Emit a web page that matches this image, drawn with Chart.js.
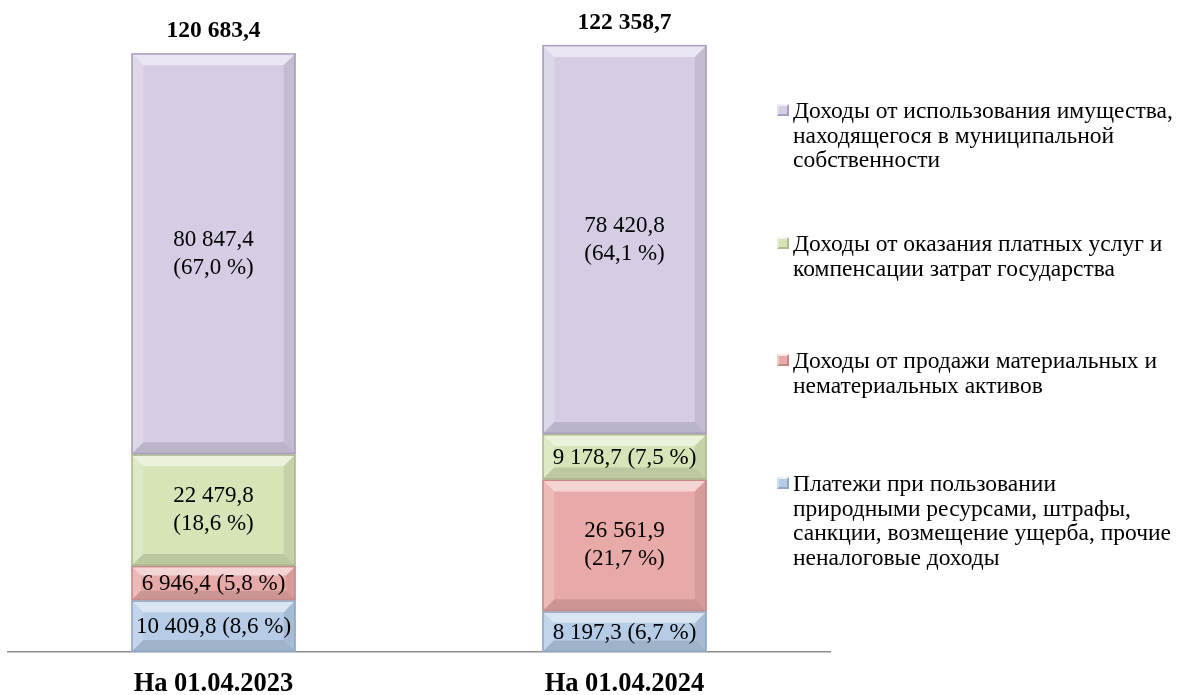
<!DOCTYPE html>
<html>
<head>
<meta charset="utf-8">
<script src="https://cdn.jsdelivr.net/npm/chart.js@4.4.0/dist/chart.umd.min.js"></script>
<style>
  body { margin: 0; background: #fff; }
  #wrap { position: relative; width: 1197px; height: 695px; }
  .leg { position: absolute; left: 777px; font-family: "Liberation Serif", "Times New Roman", serif; font-size: 23.5px; line-height: 24.5px; color: #000; }
  .leg i { position: absolute; left: 0; top: 6px; width: 8px; height: 8px; border: 2px solid; }
  .leg span { display: block; margin-left: 16px; white-space: nowrap; }
</style>
</head>
<body>
<div id="wrap">
  <canvas id="chart" width="1197" height="695"></canvas>
  <div id="legend"></div>
</div>
<script>
// categories and series (bottom of stack first)
const categories = ["На 01.04.2023", "На 01.04.2024"];

const payments = [10409.8, 8197.3];
const sales = [6946.4, 26561.9];
const services = [22479.8, 9178.7];
const property = [80847.4, 78420.8];

const paymentsShare = [8.6, 6.7];
const salesShare = [5.8, 21.7];
const servicesShare = [18.6, 7.5];
const propertyShare = [67.0, 64.1];

const totals = [120683.4, 122358.7];

const seriesNames = [
  "Платежи при пользовании природными ресурсами, штрафы, санкции, возмещение ущерба, прочие неналоговые доходы",
  "Доходы от продажи материальных и нематериальных активов",
  "Доходы от оказания платных услуг и компенсации затрат государства",
  "Доходы от использования имущества, находящегося в муниципальной собственности"
];
// how the legend text breaks into lines
const legendLines = [
  ["Платежи при пользовании", "природными ресурсами, штрафы,", "санкции, возмещение ущерба, прочие", "неналоговые доходы"],
  ["Доходы от продажи материальных и", "нематериальных активов"],
  ["Доходы от оказания платных услуг и", "компенсации затрат государства"],
  ["Доходы от использования имущества,", "находящегося в муниципальной", "собственности"]
];
const legendTop = [471, 348, 231, 98];

const fills = ["#b5cbe6", "#e8aaa8", "#d6e4b7", "#d6cde4"];
const edges = ["#8fa8c8", "#c88a88", "#abbb8c", "#ab9dbf"];

const FONT = '"Liberation Serif", "Times New Roman", serif';

function fmt(v) {
  const parts = v.toFixed(1).split(".");
  return parts[0].replace(/\B(?=(\d{3})+(?!\d))/g, " ") + "," + parts[1];
}

function poly(ctx, pts, color) {
  ctx.beginPath();
  ctx.moveTo(pts[0][0], pts[0][1]);
  for (let k = 1; k < pts.length; k++) ctx.lineTo(pts[k][0], pts[k][1]);
  ctx.closePath();
  ctx.fillStyle = color;
  ctx.fill();
}

const shares = [paymentsShare, salesShare, servicesShare, propertyShare];

const bevelPlugin = {
  id: "bevel",
  afterDatasetsDraw(chart) {
    const ctx = chart.ctx;
    chart.data.datasets.forEach((ds, di) => {
      const meta = chart.getDatasetMeta(di);
      meta.data.forEach((bar, i) => {
        const p = bar.getProps(["x", "y", "base", "width"], true);
        const l = p.x - p.width / 2, r = p.x + p.width / 2;
        const t = Math.min(p.y, p.base), b = Math.max(p.y, p.base);
        const h = b - t;
        const s = Math.min(12, h * 0.28);
        ctx.save();
        poly(ctx, [[l, t], [r, t], [r - s, t + s], [l + s, t + s]], "rgba(255,255,255,0.5)");
        poly(ctx, [[l, t], [l + s, t + s], [l + s, b - s], [l, b]], "rgba(255,255,255,0.2)");
        poly(ctx, [[r, t], [r, b], [r - s, b - s], [r - s, t + s]], "rgba(0,0,0,0.08)");
        poly(ctx, [[l, b], [l + s, b - s], [r - s, b - s], [r, b]], "rgba(0,0,0,0.12)");
        ctx.strokeStyle = edges[di];
        ctx.lineWidth = 1.5;
        ctx.strokeRect(l + 0.75, t + 0.75, r - l - 1.5, h - 1.5);

        // value labels
        ctx.fillStyle = "#000";
        ctx.textAlign = "center";
        ctx.textBaseline = "middle";
        ctx.font = "23px " + FONT;
        const val = fmt(ds.data[i]);
        const pct = "(" + shares[di][i].toFixed(1).replace(".", ",") + " %)";
        const cy = (t + b) / 2;
        if (h > 70) {
          ctx.fillText(val, p.x, cy - 14);
          ctx.fillText(pct, p.x, cy + 14);
        } else {
          ctx.fillText(val + " " + pct, p.x, cy + 1);
        }
        // total on top of the stack
        if (di === chart.data.datasets.length - 1) {
          ctx.font = "bold 23.5px " + FONT;
          ctx.fillText(fmt(totals[i]), p.x, t - 22);
        }
        ctx.restore();
      });
    });
  }
};

const seriesData = [payments, sales, services, property];

new Chart(document.getElementById("chart"), {
  type: "bar",
  data: {
    labels: categories,
    datasets: seriesData.map((arr, k) => ({
      label: seriesNames[k],
      data: arr,
      backgroundColor: fills[k],
      borderWidth: 0,
      barPercentage: 0.4,
      categoryPercentage: 1
    }))
  },
  options: {
    responsive: false,
    animation: false,
    layout: { padding: { left: 8, right: 367, top: 7, bottom: 0 } },
    plugins: { legend: { display: false }, tooltip: { enabled: false } },
    scales: {
      x: {
        stacked: true,
        grid: { display: false, drawTicks: false },
        border: { color: "#8c8c8c", width: 1.5 },
        ticks: { color: "#000", padding: 16, maxRotation: 0, font: { family: FONT, size: 26.5, weight: "bold" } },
        afterFit: scale => { scale.height = 43; }
      },
      y: { stacked: true, display: false, min: 0, max: 130000 }
    }
  },
  plugins: [bevelPlugin]
});

// legend, top to bottom as in the picture
const legend = document.getElementById("legend");
for (let k = seriesNames.length - 1; k >= 0; k--) {
  const div = document.createElement("div");
  div.className = "leg";
  div.style.top = legendTop[k] + "px";
  div.title = seriesNames[k];
  const mark = document.createElement("i");
  mark.style.background = fills[k];
  mark.style.borderColor = "rgba(255,255,255,0.7) " + edges[k] + " " + edges[k] + " rgba(255,255,255,0.4)";
  div.appendChild(mark);
  legendLines[k].forEach(line => {
    const sp = document.createElement("span");
    sp.textContent = line;
    div.appendChild(sp);
  });
  legend.appendChild(div);
}
</script>
</body>
</html>
